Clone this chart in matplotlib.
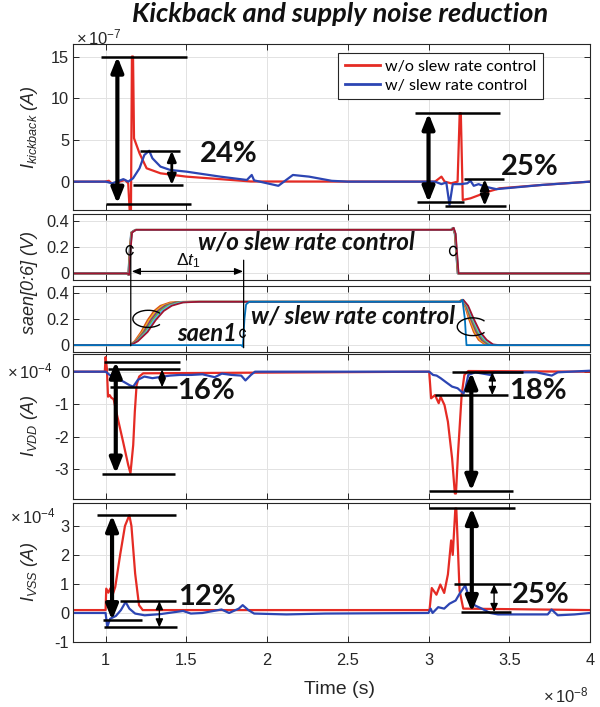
import matplotlib
matplotlib.use("Agg")
import matplotlib.pyplot as plt
from matplotlib.patches import FancyArrowPatch, Arc, ConnectionPatch

plt.rcParams["font.family"] = ["Liberation Sans", "DejaVu Sans"]
plt.rcParams["mathtext.fontset"] = "custom"
plt.rcParams["mathtext.rm"] = "Liberation Sans"
plt.rcParams["mathtext.it"] = "Liberation Sans:italic"
plt.rcParams["mathtext.bf"] = "Liberation Sans:bold"
plt.rcParams["axes.unicode_minus"] = False

# ---------------- data (time in units of 1e-8 s) ----------------
x_ticks = [1, 1.5, 2, 2.5, 3, 3.5, 4]
x_ticklabels = ["1", "1.5", "2", "2.5", "3", "3.5", "4"]

# Kickback current (x 1e-7 A)
kick_t_wo = [0.80, 0.995, 1.02, 1.055, 1.085, 1.12, 1.14, 1.15, 1.157, 1.163, 1.170, 1.176,
             1.21, 1.254, 1.34, 1.50, 1.71, 1.90, 3.04, 3.08, 3.10, 3.14, 3.18, 3.193,
             3.200, 3.212, 3.26, 3.37, 3.44, 3.70, 4.00]
kick_i_wo = [0, 0, 0.1, -0.5, 0, 0.2, -0.2, -3.8, -3.8, 15.0, 15.0, 5.2,
             3.4, 1.6, 1.0, 0.6, 0.3, 0.02, 0, 0.6, 0, -0.2, 0, 8.2,
             8.2, -2.2, -2.0, -1.2, -0.8, -0.4, 0]
kick_t_w = [0.80, 1.00, 1.04, 1.07, 1.11, 1.14, 1.17, 1.21, 1.24, 1.27, 1.29, 1.34, 1.40,
            1.50, 1.71, 1.875, 1.905, 1.92, 2.07, 2.16, 2.26, 2.40, 2.50, 3.04, 3.08,
            3.11, 3.13, 3.15, 3.20, 3.24, 3.26, 3.28, 3.31, 3.35, 3.42, 3.70, 4.00]
kick_i_w = [0, 0, -0.2, 0, 0.3, 0, 0.4, 1.6, 3.2, 3.7, 2.8, 1.8, 1.4,
            1.2, 0.6, 0.2, 0.8, 0.15, -0.5, 0.8, 0.6, 0.1, 0, 0, -0.3,
            -0.1, -2.8, -0.3, -0.3, -0.2, 0.1, -0.5, -0.3, -0.6, -0.9, -0.4, 0]

# saen[0:6] without slew rate control (V): common level sequence, one time list per bit
saen_wo_v = [0, 0, -0.01, 0.20, 0.31, 0.33, 0.33, 0.345, 0.30, 0.0, 0.0]
saen_wo_t = [
    [0.8, 1.128, 1.140, 1.150, 1.158, 1.183, 3.138, 3.150, 3.162, 3.180, 4.0],
    [0.8, 1.129, 1.141, 1.151, 1.159, 1.184, 3.139, 3.151, 3.163, 3.181, 4.0],
    [0.8, 1.130, 1.142, 1.152, 1.160, 1.185, 3.140, 3.152, 3.164, 3.182, 4.0],
    [0.8, 1.131, 1.143, 1.153, 1.161, 1.186, 3.141, 3.153, 3.165, 3.183, 4.0],
    [0.8, 1.132, 1.144, 1.154, 1.162, 1.187, 3.142, 3.154, 3.166, 3.184, 4.0],
    [0.8, 1.133, 1.145, 1.155, 1.163, 1.188, 3.143, 3.155, 3.167, 3.185, 4.0],
    [0.8, 1.134, 1.146, 1.156, 1.164, 1.189, 3.144, 3.156, 3.168, 3.186, 4.0],
]

# saen[1:6] with slew rate control (V)
saen_w_v = [0, 0, 0.03, 0.10, 0.19, 0.26, 0.30, 0.325, 0.33, 0.33, 0.345,
            0.30, 0.20, 0.10, 0.04, 0.005, 0, 0]
saen_w_t = [
    [0.8, 1.150, 1.180, 1.220, 1.260, 1.300, 1.340, 1.400, 1.480, 3.190, 3.205, 3.225, 3.250, 3.280, 3.310, 3.350, 3.380, 4.0],
    [0.8, 1.151, 1.184, 1.228, 1.270, 1.312, 1.354, 1.416, 1.500, 3.191, 3.207, 3.229, 3.256, 3.288, 3.320, 3.360, 3.392, 4.0],
    [0.8, 1.152, 1.188, 1.236, 1.280, 1.324, 1.368, 1.432, 1.520, 3.192, 3.209, 3.233, 3.262, 3.296, 3.330, 3.370, 3.404, 4.0],
    [0.8, 1.153, 1.192, 1.244, 1.290, 1.336, 1.382, 1.448, 1.540, 3.193, 3.211, 3.237, 3.268, 3.304, 3.340, 3.380, 3.416, 4.0],
    [0.8, 1.154, 1.196, 1.252, 1.300, 1.348, 1.396, 1.464, 1.560, 3.194, 3.213, 3.241, 3.274, 3.312, 3.350, 3.390, 3.428, 4.0],
    [0.8, 1.155, 1.200, 1.260, 1.310, 1.360, 1.410, 1.480, 1.580, 3.195, 3.215, 3.245, 3.280, 3.320, 3.360, 3.400, 3.440, 4.0],
]
# saen1 with slew rate control (V)
saen1_t = [0.8, 1.840, 1.850, 1.860, 1.870, 1.890, 3.200, 3.210, 3.225, 3.235, 4.0]
saen1_v = [0, 0, -0.012, 0.20, 0.31, 0.33, 0.33, 0.345, 0.20, 0.0, 0.0]

# Supply current I_VDD (x 1e-4 A)
vdd_t_wo = [0.80, 0.995, 1.000, 1.008, 1.015, 1.025, 1.035, 1.050, 1.066, 1.108, 1.14,
            1.154, 1.171, 1.181, 1.192, 1.208, 1.233, 3.004, 3.016, 3.040, 3.063, 3.075,
            3.099, 3.12, 3.146, 3.163, 3.170, 3.182, 3.205, 3.222, 3.246, 4.0]
vdd_i_wo = [0, 0, 0.45, 0.1, -0.77, -0.72, -0.8, -0.85, -1.23, -2.15, -2.87,
            -3.13, -2.26, -1.23, -0.41, -0.15, -0.05, 0, -0.82, -0.72, -0.97, -0.77,
            -1.03, -1.54, -2.67, -3.75, -3.75, -2.57, -0.72, -0.1, 0.02, 0]
vdd_t_w = [0.80, 1.0, 1.025, 1.066, 1.108, 1.15, 1.171, 1.2, 1.24, 1.29, 1.33, 1.40, 1.46,
           1.53, 1.60, 1.676, 1.72, 1.78, 1.84, 1.866, 1.90, 1.925, 3.004, 3.028, 3.05,
           3.075, 3.11, 3.146, 3.18, 3.205, 3.217, 3.229, 3.246, 3.29, 3.383, 3.407,
           3.668, 3.763, 3.80, 4.0]
vdd_i_w = [0, 0, -0.1, -0.2, -0.3, -0.42, -0.46, -0.25, -0.15, -0.2, -0.17, -0.12, -0.1,
           -0.1, -0.08, -0.17, -0.06, -0.1, -0.12, -0.27, -0.1, 0, 0, -0.1, -0.12,
           -0.2, -0.33, -0.46, -0.51, -0.62, -0.67, -0.51, -0.1, -0.02, -0.1, -0.02,
           -0.02, -0.12, -0.02, 0.03]

# Supply current I_VSS (x 1e-4 A)
vss_t_wo = [0.80, 1.000, 1.004, 1.017, 1.030, 1.045, 1.060, 1.090, 1.120, 1.147, 1.160,
            1.183, 1.207, 1.230, 3.006, 3.020, 3.049, 3.073, 3.097, 3.120, 3.140, 3.150,
            3.166, 3.172, 3.180, 3.192, 3.215, 4.0]
vss_i_wo = [0.1, 0.1, 0.84, 0.7, 0.85, 0.65, 0.9, 2.0, 3.0, 3.37, 3.0,
            1.36, 0.27, 0.1, 0.1, 0.86, 0.63, 0.98, 0.69, 1.33, 2.5, 2.0,
            3.6, 3.6, 2.5, 0.78, 0.15, 0.1]
vss_t_w = [0.80, 1.0, 1.01, 1.028, 1.064, 1.095, 1.124, 1.147, 1.183, 1.242, 1.338, 1.48,
           1.528, 1.60, 1.718, 1.765, 1.825, 1.849, 1.884, 1.92, 2.12, 2.36, 3.0, 3.013,
           3.025, 3.06, 3.097, 3.13, 3.168, 3.192, 3.227, 3.25, 3.287, 3.33, 3.382, 3.43,
           3.738, 3.762, 3.80, 3.905, 4.0]
vss_i_w = [0, 0, -0.48, -0.2, -0.1, 0.1, 0.38, 0.15, -0.02, -0.08, -0.04, 0.07,
           -0.02, 0.0, 0.12, 0.0, 0.15, 0.27, 0.1, -0.02, -0.05, -0.02, 0, 0.15,
           0.0, 0.2, 0.15, 0.32, 0.43, 0.66, 0.95, 0.55, 0.26, 0.15, 0.0, -0.05,
           -0.05, 0.12, -0.08, -0.05, 0.0]

# Peak-to-peak markers: (level, x_start, x_end)
kick_levels = [(15.0, 0.973, 1.504), (-2.65, 1.0, 1.53), (3.7, 1.21, 1.46), (-0.4, 1.167, 1.48),
               (8.2, 2.914, 3.443), (-2.5, 2.928, 3.217), (-2.9, 3.099, 3.478), (0.3, 3.217, 3.466)]
vdd_levels = [(0.31, 0.99, 1.46), (0.07, 1.015, 1.46), (-0.48, 1.025, 1.44), (-3.14, 0.98, 1.43),
              (-0.02, 3.146, 3.585), (-0.72, 3.04, 3.49), (-3.67, 3.004, 3.525)]
vss_levels = [(3.37, 0.945, 1.437), (-0.25, 0.981, 1.223), (0.41, 1.088, 1.437), (-0.5, 0.993, 1.445),
              (3.62, 3.001, 3.536), (0.99, 3.156, 3.513), (0.03, 3.204, 3.513)]
# Span arrows: (x, y_from, y_to)
kick_big = [(1.073, 15.0, -2.65), (3.0, 8.2, -2.5)]
kick_small = [(1.41, 3.7, -0.4), (3.348, 0.3, -2.9)]
vdd_big = [(1.063, 0.31, -3.14), (3.265, -0.02, -3.67)]
vdd_small = [(1.35, 0.07, -0.48), (3.395, -0.02, -0.72)]
vss_big = [(1.04, 3.37, -0.25), (3.268, 3.62, 0.03)]
vss_small = [(1.333, 0.41, -0.5), (3.406, 0.99, 0.03)]
# Reduction labels: (x, y, text)
kick_pct = [(1.765, 3.3, "24%"), (3.625, 1.7, "25%")]
vdd_pct = [(1.62, -0.6, "16%"), (3.68, -0.6, "18%")]
vss_pct = [(1.628, 0.55, "12%"), (3.696, 0.61, "25%")]

RED = "#e52b24"
BLUE = "#2c45b3"
ML_COLORS = ["#0072BD", "#D95319", "#EDB120", "#7E2F8E", "#77AC30", "#4DBEEE", "#A2142F"]
DARK = "#262626"
ANNOT = "Lato"

# ---------------- figure layout ----------------
W, H = 600, 707
fig = plt.figure(figsize=(W / 100, H / 100), dpi=100)


def rect(top, bot, left=73.3, right=590.0):
    return [left / W, 1 - bot / H, (right - left) / W, (bot - top) / H]


ax1 = fig.add_axes(rect(44, 210))
ax2 = fig.add_axes(rect(214, 280))
ax3 = fig.add_axes(rect(286, 351.7))
ax4 = fig.add_axes(rect(354.3, 498.7))
ax5 = fig.add_axes(rect(502.7, 642))


def style(ax, ylim, yticks, ylabels, show_x=False):
    ax.set_xlim(0.8, 4.0)
    ax.set_ylim(*ylim)
    ax.set_xticks(x_ticks)
    ax.set_yticks(yticks)
    ax.set_yticklabels(ylabels)
    if show_x:
        ax.set_xticklabels(x_ticklabels)
    else:
        ax.set_xticklabels([])
    ax.grid(True, color="#e2e2e2", lw=0.7)
    ax.set_axisbelow(True)
    ax.tick_params(direction="in", top=True, right=True, length=4, width=0.7,
                   colors=DARK, labelsize=11.8)
    ax.tick_params(axis="y", pad=3.0)
    ax.tick_params(axis="x", pad=8)
    for s in ax.spines.values():
        s.set_color(DARK)
        s.set_linewidth(0.8)


style(ax1, (-3.4, 16.5), [0, 5, 10, 15], ["0", "5", "10", "15"])
style(ax2, (-0.05, 0.45), [0, 0.2, 0.4], ["0", "0.2", "0.4"])
style(ax3, (-0.05, 0.45), [0, 0.2, 0.4], ["0", "0.2", "0.4"])
style(ax4, (-3.91, 0.535), [-3, -2, -1, 0], ["-3", "-2", "-1", "0"])
style(ax5, (-1.0, 3.8), [-1, 0, 1, 2, 3], ["-1", "0", "1", "2", "3"], show_x=True)

# ---------------- traces ----------------
ax1.plot(kick_t_wo, kick_i_wo, color=RED, lw=1.6, label="w/o slew rate control")
ax1.plot(kick_t_w, kick_i_w, color=BLUE, lw=1.6, label="w/ slew rate control")

for t, c in zip(saen_wo_t, ML_COLORS):
    ax2.plot(t, saen_wo_v, color=c, lw=1.3)
for t, c in zip(saen_w_t, ML_COLORS[1:]):
    ax3.plot(t, saen_w_v, color=c, lw=1.3)
ax3.plot(saen1_t, saen1_v, color=ML_COLORS[0], lw=1.3)

ax4.plot(vdd_t_wo, vdd_i_wo, color=RED, lw=1.6)
ax4.plot(vdd_t_w, vdd_i_w, color=BLUE, lw=1.6)
ax5.plot(vss_t_wo, vss_i_wo, color=RED, lw=1.6)
ax5.plot(vss_t_w, vss_i_w, color=BLUE, lw=1.6)

# ---------------- peak-to-peak annotations ----------------
BIG = dict(style="<|-|>,head_length=0.45,head_width=0.18", ms=20, lw=3.0)
MID = dict(style="<|-|>,head_length=0.38,head_width=0.16", ms=16, lw=2.0)
THIN = dict(style="<|-|>,head_length=0.45,head_width=0.2", ms=11, lw=1.0)


def span_arrow(ax, x, y0, y1, spec):
    ax.add_patch(FancyArrowPatch((x, y0), (x, y1), arrowstyle=spec["style"],
                                 mutation_scale=spec["ms"], lw=spec["lw"], color="black",
                                 shrinkA=0, shrinkB=0, zorder=5))


def annotate(ax, levels, big, small, small_spec, pct):
    for y, x0, x1 in levels:
        ax.plot([x0, x1], [y, y], color="black", lw=1.8, solid_capstyle="butt", zorder=4)
    for x, y0, y1 in big:
        span_arrow(ax, x, y0, y1, BIG)
    for x, y0, y1 in small:
        span_arrow(ax, x, y0, y1, small_spec)
    for x, y, s in pct:
        ax.text(x, y, s, ha="center", va="center", fontsize=21, fontweight="bold",
                family=ANNOT, color="#111111", zorder=6)


annotate(ax1, kick_levels, kick_big, kick_small, MID, kick_pct)
annotate(ax4, vdd_levels, vdd_big, vdd_small, THIN, vdd_pct)
annotate(ax5, vss_levels, vss_big, vss_small, THIN, vss_pct)

leg = ax1.legend(loc="upper left", bbox_to_anchor=(0.513, 0.944), borderaxespad=0,
                 frameon=True, fancybox=False, edgecolor=DARK, framealpha=1,
                 prop={"family": ANNOT, "size": 11.6}, handlelength=2.2,
                 handletextpad=0.3, labelspacing=0.28, borderpad=0.4)
leg.get_frame().set_linewidth(0.8)
for h in leg.get_lines():
    h.set_linewidth(2.0)

# ---------------- saen panels: labels, groups, delay ----------------
ax2.text(2.245, 0.24, "w/o slew rate control", ha="center", va="center", fontsize=17.5,
         fontweight="bold", style="italic", family=ANNOT, color="#111111")
ax3.text(2.53, 0.225, "w/ slew rate control", ha="center", va="center", fontsize=17.5,
         fontweight="bold", style="italic", family=ANNOT, color="#111111")
ax3.text(1.63, 0.09, "saen1", ha="center", va="center", fontsize=17,
         fontweight="bold", style="italic", family=ANNOT, color="#111111")

for ax, (x, y, w, h) in [(ax2, (1.15, 0.175, 0.045, 0.07)), (ax2, (3.153, 0.17, 0.045, 0.07)),
                         (ax3, (1.264, 0.2, 0.19, 0.13)), (ax3, (3.273, 0.14, 0.19, 0.135)),
                         (ax3, (1.849, 0.09, 0.035, 0.06))]:
    ax.add_patch(Arc((x, y), w, h, theta1=30, theta2=330, color="black", lw=1.0, zorder=6))

ax2.add_patch(FancyArrowPatch((1.162, 0.015), (1.852, 0.015),
                              arrowstyle="<|-|>,head_length=0.5,head_width=0.2",
                              mutation_scale=10, lw=0.9, color="black", shrinkA=0, shrinkB=0))
ax2.text(1.51, 0.095, r"$\Delta t_1$", ha="center", va="center", fontsize=12.5, color="#111111")

for (xa, ya, yb) in [(1.156, 0.2, -0.005), (1.855, 0.1, -0.02)]:
    fig.add_artist(ConnectionPatch(xyA=(xa, ya), coordsA=ax2.transData,
                                   xyB=(xa, yb), coordsB=ax3.transData,
                                   color="black", lw=0.9))

# ---------------- axis titles ----------------
def ylab(y_px, s):
    fig.text(30 / W, 1 - y_px / H, s, rotation=90, ha="center", va="center",
             fontsize=13, style="italic", color=DARK)


ylab(127, r"$I_{kickback}$ (A)")
ylab(283, r"saen[0:6] (V)")
ylab(426, r"$I_{VDD}$ (A)")
ylab(572, r"$I_{VSS}$ (A)")

for x_px, y_px, s in [(76, 37, r"$\times\,10^{-7}$"), (7, 371, r"$\times\,10^{-4}$"),
                      (10, 516, r"$\times\,10^{-4}$"), (543, 695, r"$\times\,10^{-8}$")]:
    fig.text(x_px / W, 1 - y_px / H, s, ha="left", va="center", fontsize=12, color=DARK)

fig.text(340 / W, 1 - 690 / H, "Time (s)", ha="center", va="center", fontsize=14, color=DARK)
fig.text(340 / W, 1 - 14 / H, "Kickback and supply noise reduction", ha="center", va="center",
         fontsize=19.5, fontweight="bold", style="italic", family=ANNOT, color="#111111")

fig.savefig("out.png", dpi=100)
